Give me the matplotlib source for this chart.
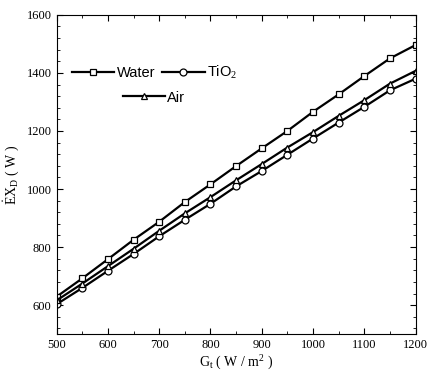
import matplotlib.pyplot as plt
import matplotlib.ticker as mticker

plt.rcParams['mathtext.fontset'] = 'custom'
plt.rcParams['mathtext.rm'] = 'Liberation Serif'
plt.rcParams['mathtext.it'] = 'Liberation Serif:italic'

# solar irradiance (W/m2)
gt = [500, 550, 600, 650, 700, 750, 800, 850, 900, 950, 1000, 1050, 1100, 1150, 1200]

# exergy destruction (W)
water = [629, 692, 758, 825, 887, 955, 1016, 1079, 1140, 1200, 1266, 1326, 1389, 1450, 1496]
tio2 = [603, 659, 718, 776, 837, 894, 949, 1009, 1062, 1118, 1174, 1229, 1283, 1340, 1380]
air = [616, 674, 734, 794, 856, 916, 972, 1030, 1086, 1143, 1196, 1252, 1306, 1363, 1407]

fig = plt.figure(figsize=(4.32, 3.81), dpi=100)
ax = fig.add_axes([0.131, 0.123, 0.831, 0.838])

kw = dict(color='black', lw=1.6, mfc='white', mec='black', mew=0.9, ms=5)
l1, = ax.plot(gt, water, marker='s', label='Water', **kw)
l2, = ax.plot(gt, tio2, marker='o', label='TiO$_2$', **kw)
l3, = ax.plot(gt, air, marker='^', label='Air', **kw)

ax.set_xlim(500, 1200)
ax.set_ylim(500, 1600)
ax.xaxis.set_major_locator(mticker.MultipleLocator(100))
ax.xaxis.set_minor_locator(mticker.MultipleLocator(50))
ax.yaxis.set_major_locator(mticker.MultipleLocator(200))
ax.yaxis.set_minor_locator(mticker.MultipleLocator(40))
ax.tick_params(which='both', direction='in', top=True, right=True, labelsize=9)
ax.tick_params(which='major', length=4)
ax.tick_params(which='minor', length=2.5)
for lab in ax.get_xticklabels() + ax.get_yticklabels():
    lab.set_fontfamily('Liberation Serif')
ax.yaxis.set_major_formatter(mticker.FuncFormatter(lambda v, p: '' if v == 500 else '%d' % v))

ax.set_xlabel(r'$\mathrm{G_t}$ ( W / m$^2$ )', family='Liberation Serif', fontsize=10, labelpad=2)
ax.set_ylabel(r'$\mathrm{\dot{E}X_D}$ ( W )', family='Liberation Serif', fontsize=10, labelpad=4)

lprops = dict(family='Liberation Sans', size=10.5)
leg1 = ax.legend([l1, l2], ['Water', 'TiO$_2$'], ncol=2, frameon=False, prop=lprops,
                 handlelength=2.9, handletextpad=0.15, columnspacing=0.5, borderpad=0,
                 loc='center left', bbox_to_anchor=(0.043, 0.82), borderaxespad=0)
ax.add_artist(leg1)
leg2 = ax.legend([l3], ['Air'], frameon=False, prop=lprops,
                 handlelength=2.9, handletextpad=0.15, borderpad=0,
                 loc='center left', bbox_to_anchor=(0.184, 0.741), borderaxespad=0)

fig.savefig('out.png', dpi=100)
